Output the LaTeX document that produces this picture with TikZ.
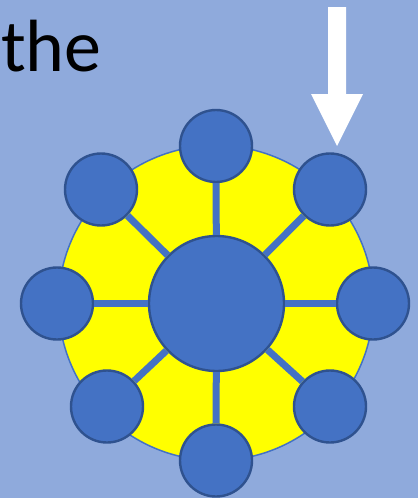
\documentclass[tikz,border=0pt]{standalone}
\usepackage{fontspec}
\setmainfont{Carlito}
\usepackage{tikz}
\definecolor{sky}{HTML}{8FAADC}
\definecolor{dotblue}{HTML}{4472C4}
\definecolor{rimblue}{HTML}{2F528F}
\definecolor{sun}{HTML}{FFFF00}

\begin{document}
\begin{tikzpicture}[x=1pt,y=-1pt]
    \fill[sky] (0,0) rectangle (418,498);
    \node[anchor=base west,inner sep=0pt,font=\fontsize{74}{76}\selectfont] (word) at (1,71) {the};
    \fill[white] (328,7) -- (346,7) -- (346,94) -- (363,94) -- (337,146) -- (311,94) -- (328,94) -- cycle;
    \node[circle,draw=dotblue,fill=sun,line width=1.5pt,minimum size=315pt,inner sep=0pt] (wheel) at (216,303) {};
    \node[circle,draw=rimblue,fill=dotblue,line width=2.4pt,minimum size=135pt,inner sep=0pt] (hub) at (216.5,303.5) {};
    \node[circle,draw=rimblue,fill=dotblue,line width=2.4pt,minimum size=72pt,inner sep=0pt] (top) at (216,146) {};
    \node[circle,draw=rimblue,fill=dotblue,line width=2.4pt,minimum size=72pt,inner sep=0pt] (topleft) at (101,189.5) {};
    \node[circle,draw=rimblue,fill=dotblue,line width=2.4pt,minimum size=72pt,inner sep=0pt] (topright) at (330,189.5) {};
    \node[circle,draw=rimblue,fill=dotblue,line width=2.4pt,minimum size=72pt,inner sep=0pt] (left) at (57,303.5) {};
    \node[circle,draw=rimblue,fill=dotblue,line width=2.4pt,minimum size=72pt,inner sep=0pt] (right) at (373,303.5) {};
    \node[circle,draw=rimblue,fill=dotblue,line width=2.4pt,minimum size=72pt,inner sep=0pt] (botleft) at (107,406.5) {};
    \node[circle,draw=rimblue,fill=dotblue,line width=2.4pt,minimum size=72pt,inner sep=0pt] (botright) at (330,406.5) {};
    \node[circle,draw=rimblue,fill=dotblue,line width=2.4pt,minimum size=72pt,inner sep=0pt] (bottom) at (216,460.5) {};
    \draw[dotblue,line width=7pt] (hub)--(top); \draw[dotblue,line width=7pt] (hub)--(topleft); \draw[dotblue,line width=7pt] (hub)--(topright); \draw[dotblue,line width=7pt] (hub)--(left);
    \draw[dotblue,line width=7pt] (hub)--(right); \draw[dotblue,line width=7pt] (hub)--(botleft); \draw[dotblue,line width=7pt] (hub)--(botright); \draw[dotblue,line width=7pt] (hub)--(bottom);
\end{tikzpicture}
\end{document}
